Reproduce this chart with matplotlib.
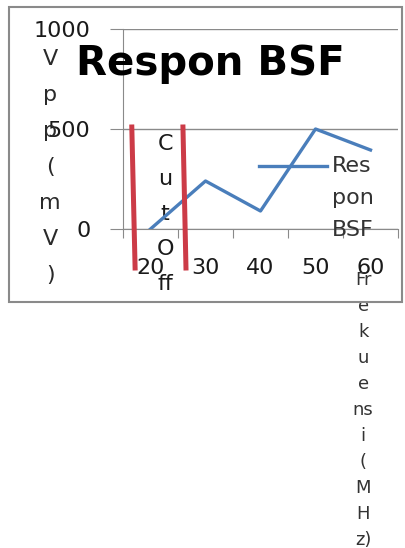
import matplotlib.pyplot as plt
import numpy as np
from matplotlib.patches import Rectangle
from matplotlib.legend_handler import HandlerLine2D

W, H = 405, 548

# data
freq = ["20", "30", "40", "50", "60"]
vpp = [0, 240, 90, 500, 395]
yticks = [0, 500, 1000]
# cut off markers (x in category units, y in mV)
cut_x = [[0.16, 0.22], [1.09, 1.145]]
cut_y = [510, -195]

plt.rcParams['font.family'] = ['DejaVu Sans']


class TopLine(HandlerLine2D):
    # Excel puts the legend line next to the first row of a wrapped label
    def create_artists(self, legend, orig_handle, xdescent, ydescent,
                       width, height, fontsize, trans):
        arts = super().create_artists(legend, orig_handle, xdescent, ydescent,
                                      width, height, fontsize, trans)
        for a in arts:
            a.set_ydata(np.asarray(a.get_ydata()) + 23.5)
        return arts


fig = plt.figure(figsize=(W / 100, H / 100), dpi=100)
fig.patches.append(Rectangle((9 / W, 1 - 302 / H), 393 / W, 295 / H,
                             transform=fig.transFigure, fill=False,
                             edgecolor="#8a8a8a", lw=1.5))

ax = fig.add_axes([123 / W, 1 - 229 / H, 275 / W, 200 / H])
x = np.arange(len(freq)) + 0.5

line, = ax.plot(x, vpp, color="#4a7ebb", lw=2.4, label="Res\npon\nBSF", zorder=3)
for cx in cut_x:
    ax.plot(cx, cut_y, color="#cc3b47", lw=3.6, clip_on=False, zorder=4)

ax.set_xlim(0, len(freq))
ax.set_ylim(0, 1000)
for s in ["top", "right"]:
    ax.spines[s].set_visible(False)
for s in ["left", "bottom"]:
    ax.spines[s].set_color("#8a8a8a")
ax.set_yticks(yticks)
ax.set_yticklabels([str(v) for v in yticks])
ax.yaxis.grid(True, color="#8a8a8a", lw=1)
ax.set_axisbelow(True)
ax.tick_params(axis="y", length=9.5, color="#8a8a8a", pad=14,
               labelsize=16, labelcolor="#1a1a1a")
ax.set_xticks(np.arange(len(freq) + 1))
ax.set_xticklabels([])
ax.set_xticks(x, minor=True)
ax.set_xticklabels(freq, minor=True)
ax.tick_params(axis="x", which="major", length=6.5, color="#8a8a8a")
ax.tick_params(axis="x", which="minor", length=0, pad=21,
               labelsize=16, labelcolor="#1a1a1a")

ax.set_title("Respon BSF", fontsize=29, fontweight="bold",
             x=0.316, y=0.785, va="center")

ax.set_ylabel("V\np\np\n(\nm\nV\n)", rotation=0, fontsize=16,
              color="#2a2a2a", linespacing=2.0, ha="center", va="center")
ax.yaxis.set_label_coords(-0.265, 0.31)

ax.set_xlabel("Fr\ne\nk\nu\ne\nns\ni\n(\nM\nH\nz)", fontsize=13,
              color="#333333", linespacing=1.57, ha="center", va="top")
ax.xaxis.set_label_coords(0.873, -0.21)

ax.text(0.153, 0.075, "C\nu\nt\nO\nff", transform=ax.transAxes,
        fontsize=16, color="#1a1a1a", linespacing=1.93,
        ha="center", va="center", zorder=2)

leg = ax.legend(handles=[line], loc="center left", bbox_to_anchor=(0.42, 0.155),
                frameon=False, fontsize=16, handlelength=3.1,
                handletextpad=0.2, labelcolor="#333333",
                handler_map={line: TopLine()})
for t in leg.get_texts():
    t.set_linespacing(1.75)

fig.savefig("out.png", dpi=100)
